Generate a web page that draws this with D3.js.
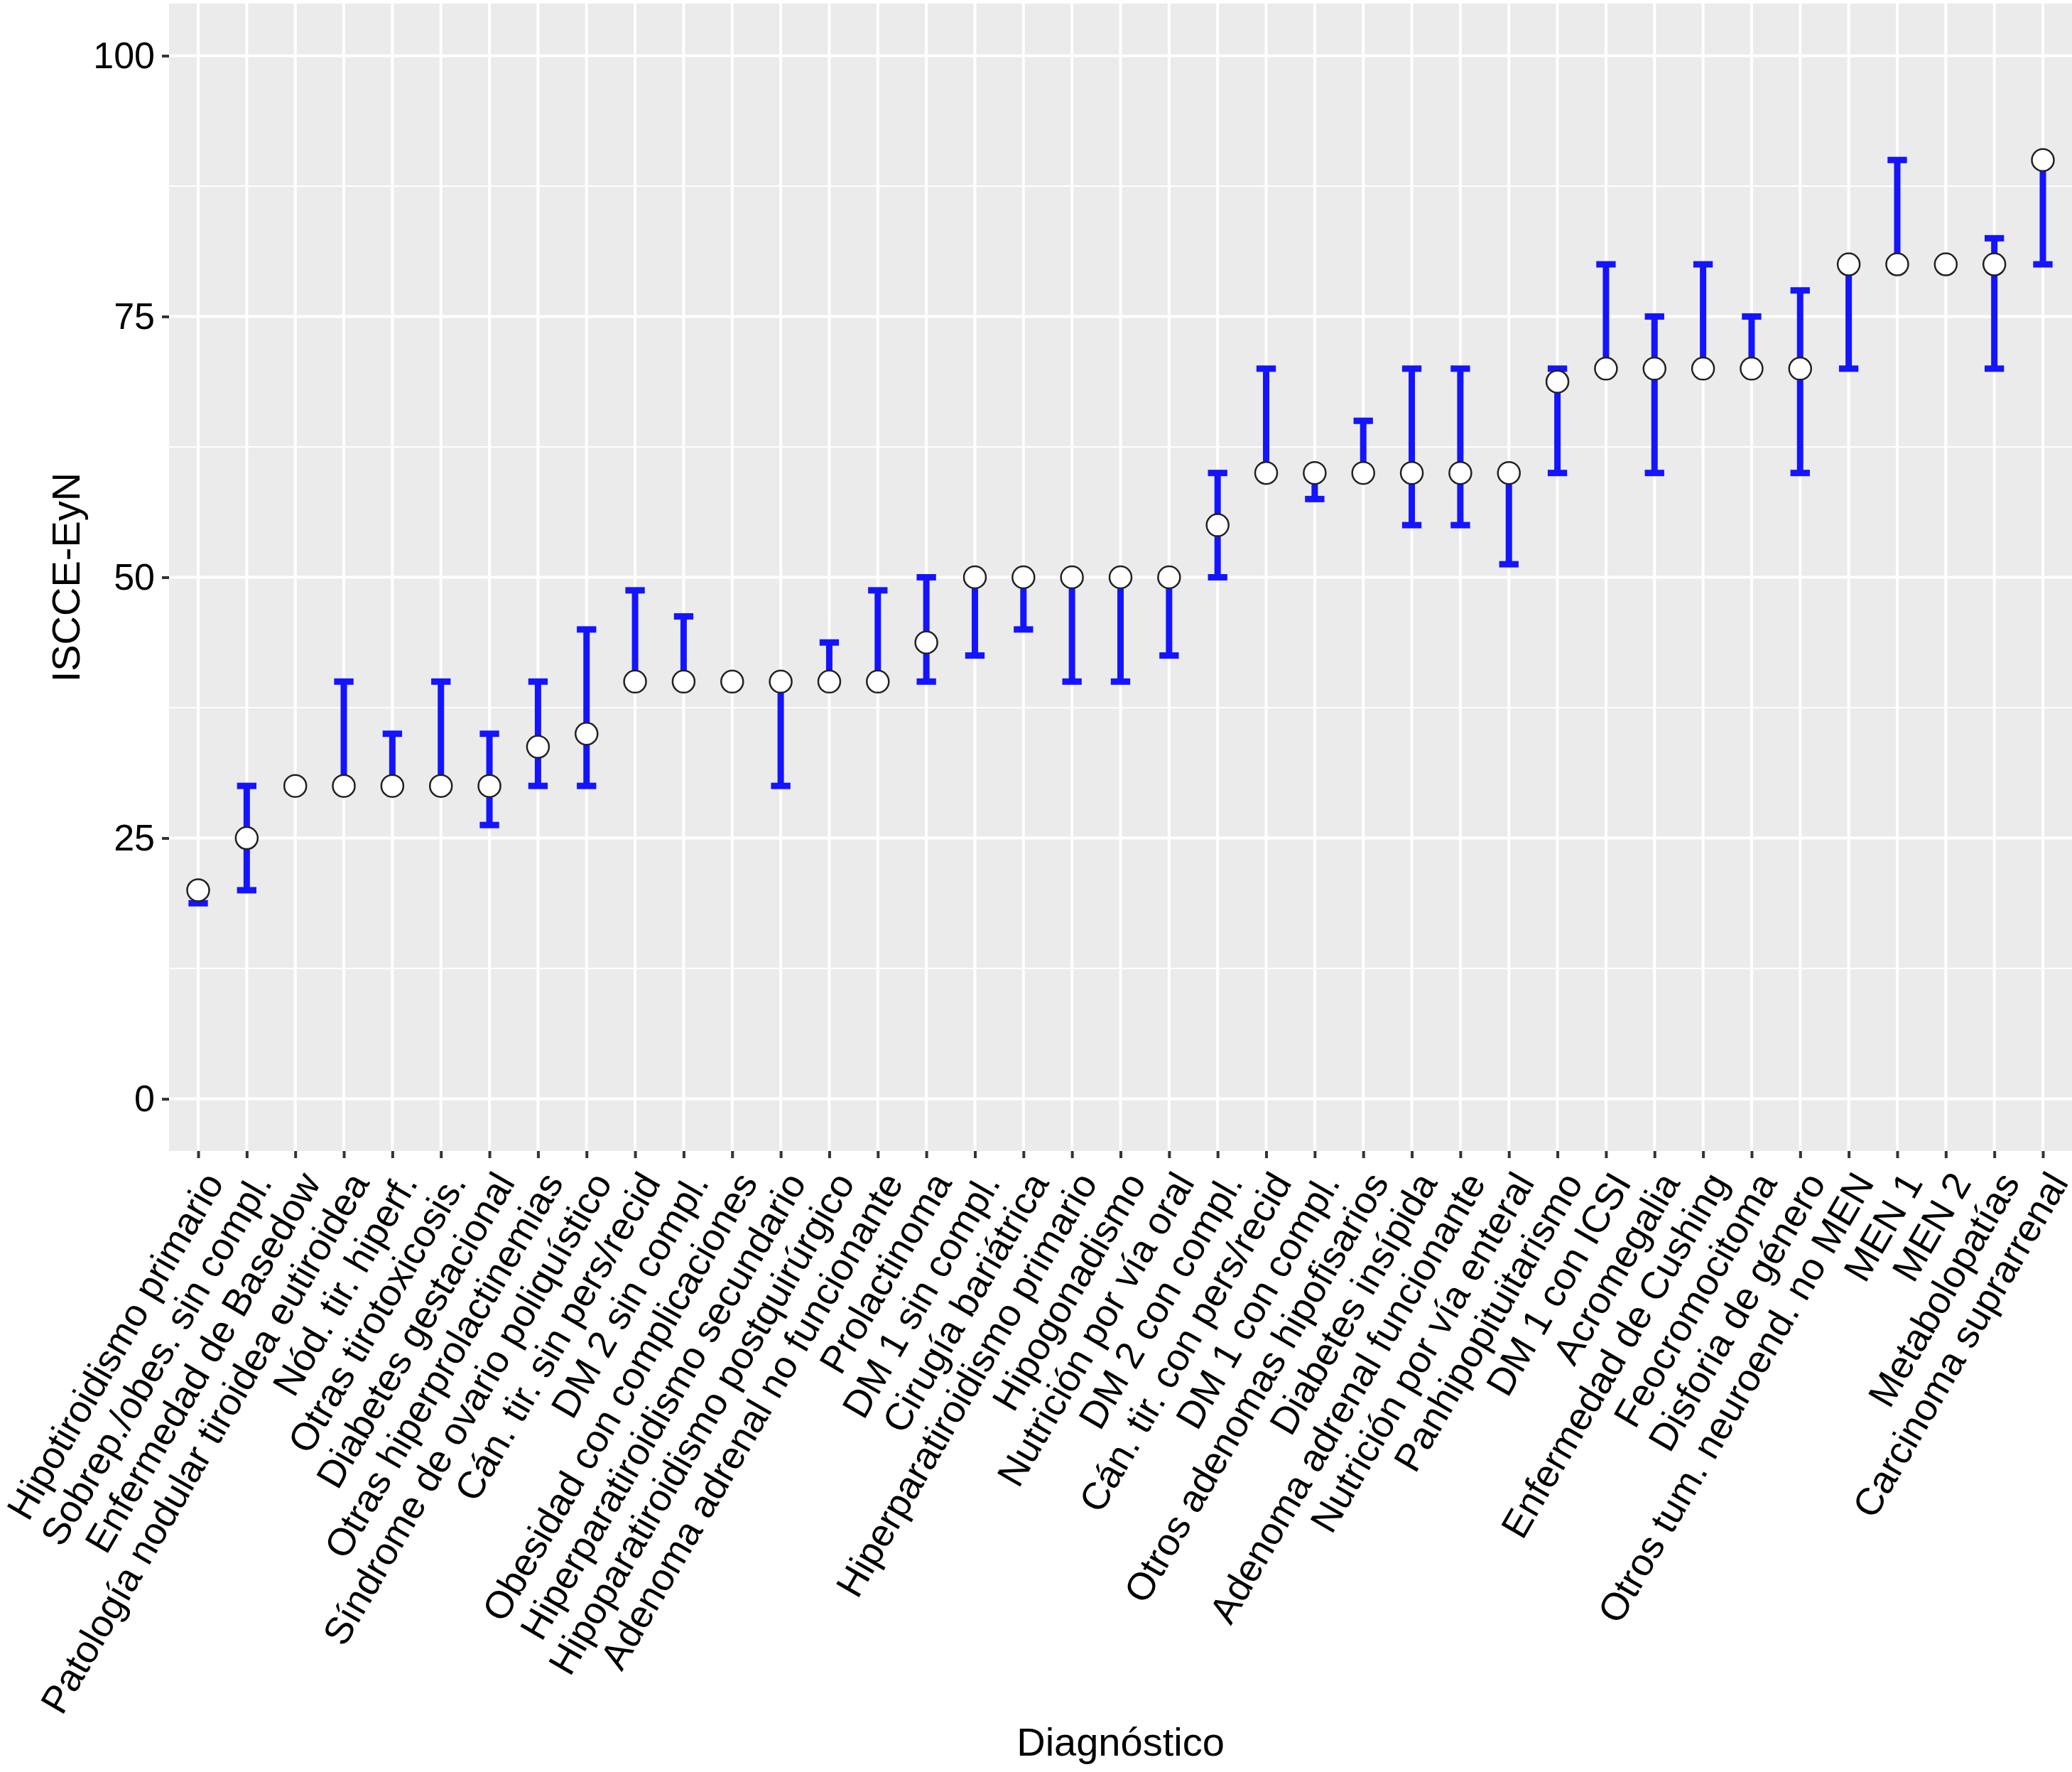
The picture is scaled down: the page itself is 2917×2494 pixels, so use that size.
<!DOCTYPE html>
<html>
<head>
<meta charset="utf-8">
<script src="https://cdn.jsdelivr.net/npm/d3@7"></script>
<style>
  html, body { margin: 0; padding: 0; background: #fff; }
  svg { display: block; }
</style>
</head>
<body>
<div id="chart"></div>
<script>
const categories = [
  "Hipotiroidismo primario",
  "Sobrep./obes. sin compl.",
  "Enfermedad de Basedow",
  "Patología nodular tiroidea eutiroidea",
  "Nód. tir. hiperf.",
  "Otras tirotoxicosis.",
  "Diabetes gestacional",
  "Otras hiperprolactinemias",
  "Síndrome de ovario poliquístico",
  "Cán. tir. sin pers/recid",
  "DM 2 sin compl.",
  "Obesidad con complicaciones",
  "Hiperparatiroidismo secundario",
  "Hipoparatiroidismo postquirúrgico",
  "Adenoma adrenal no funcionante",
  "Prolactinoma",
  "DM 1 sin compl.",
  "Cirugía bariátrica",
  "Hiperparatiroidismo primario",
  "Hipogonadismo",
  "Nutrición por vía oral",
  "DM 2 con compl.",
  "Cán. tir. con pers/recid",
  "DM 1 con compl.",
  "Otros adenomas hipofisarios",
  "Diabetes insípida",
  "Adenoma adrenal funcionante",
  "Nutrición por vía enteral",
  "Panhipopituitarismo",
  "DM 1 con ICSI",
  "Acromegalia",
  "Enfermedad de Cushing",
  "Feocromocitoma",
  "Disforia de género",
  "Otros tum. neuroend. no MEN",
  "MEN 1",
  "MEN 2",
  "Metabolopatías",
  "Carcinoma suprarrenal"
];
const medianValues = [20, 25, 30, 30, 30, 30, 30, 33.75, 35, 40, 40, 40, 40, 40, 40, 43.75, 50, 50, 50, 50, 50, 55, 60, 60, 60, 60, 60, 60, 68.75, 70, 70, 70, 70, 70, 80, 80, 80, 80, 90];
const lowerValues  = [18.75, 20, 30, 30, 30, 30, 26.25, 30, 30, 40, 40, 40, 30, 40, 40, 40, 42.5, 45, 40, 40, 42.5, 50, 60, 57.5, 60, 55, 55, 51.25, 60, 70, 60, 70, 70, 60, 70, 80, 80, 70, 80];
const upperValues  = [20, 30, 30, 40, 35, 40, 35, 40, 45, 48.75, 46.25, 40, 40, 43.75, 48.75, 50, 50, 50, 50, 50, 50, 60, 70, 60, 65, 70, 70, 60, 70, 80, 75, 80, 75, 77.5, 80, 90, 80, 82.5, 90];
const yTicks = [0, 25, 50, 75, 100];
const yMinorTicks = [12.5, 37.5, 62.5, 87.5];
const xTitle = "Diagnóstico";
const yTitle = "ISCCE-EyN";

const data = categories.map((c, i) => ({ cat: c, med: medianValues[i], lo: lowerValues[i], hi: upperValues[i] }));

const W = 2917, H = 2494;
const panel = { left: 238, right: 2917, top: 5, bottom: 1620 };
const font = "'Liberation Sans', Arial, Helvetica, sans-serif";

const svg = d3.select("#chart").append("svg")
  .attr("width", W).attr("height", H)
  .attr("viewBox", `0 0 ${W} ${H}`);

svg.append("rect").attr("width", W).attr("height", H).attr("fill", "#fff");

const x = d3.scalePoint().domain(categories).range([panel.left, panel.right]).padding(0.6);
const y = d3.scaleLinear().domain([-5, 105]).range([panel.bottom, panel.top]);

// panel background
svg.append("rect")
  .attr("x", panel.left).attr("y", panel.top)
  .attr("width", panel.right - panel.left).attr("height", panel.bottom - panel.top)
  .attr("fill", "#EBEBEB");

const grid = svg.append("g");
grid.selectAll(".minor").data(yMinorTicks).enter().append("line")
  .attr("x1", panel.left).attr("x2", panel.right)
  .attr("y1", d => y(d)).attr("y2", d => y(d))
  .attr("stroke", "#fff").attr("stroke-width", 2);
grid.selectAll(".majorY").data(yTicks).enter().append("line")
  .attr("x1", panel.left).attr("x2", panel.right)
  .attr("y1", d => y(d)).attr("y2", d => y(d))
  .attr("stroke", "#fff").attr("stroke-width", 4);
grid.selectAll(".majorX").data(categories).enter().append("line")
  .attr("y1", panel.top).attr("y2", panel.bottom)
  .attr("x1", d => x(d)).attr("x2", d => x(d))
  .attr("stroke", "#fff").attr("stroke-width", 4);

// Y axis
const yAxis = d3.axisLeft(y).tickValues(yTicks).tickSize(10).tickPadding(10).tickFormat(d3.format("d"));
const gy = svg.append("g").attr("transform", `translate(${panel.left},0)`).call(yAxis);
gy.select(".domain").remove();
gy.selectAll(".tick line").attr("stroke", "#333").attr("stroke-width", 4);
gy.selectAll(".tick text").attr("font-family", font).attr("font-size", 52).attr("fill", "#000");

// X axis
const xAxis = d3.axisBottom(x).tickSize(10).tickPadding(0);
const gx = svg.append("g").attr("transform", `translate(0,${panel.bottom})`).call(xAxis);
gx.select(".domain").remove();
gx.selectAll(".tick line").attr("stroke", "#333").attr("stroke-width", 4);
gx.selectAll(".tick text")
  .attr("font-family", font).attr("font-size", 54).attr("fill", "#000")
  .attr("text-anchor", "end")
  .attr("y", 0).attr("dy", "0.72em")
  .attr("transform", "translate(3,25) rotate(-60)");

// error bars
const capHalf = x.step() * 0.2;
const eb = svg.append("g");
eb.selectAll(".v").data(data.filter(d => d.hi > d.lo)).enter().append("line")
  .attr("x1", d => x(d.cat)).attr("x2", d => x(d.cat))
  .attr("y1", d => y(d.lo)).attr("y2", d => y(d.hi))
  .attr("stroke", "#1414FF").attr("stroke-width", 9);
eb.selectAll(".capH").data(data).enter().append("line")
  .attr("x1", d => x(d.cat) - capHalf).attr("x2", d => x(d.cat) + capHalf)
  .attr("y1", d => y(d.hi)).attr("y2", d => y(d.hi))
  .attr("stroke", "#1414FF").attr("stroke-width", 9);
eb.selectAll(".capL").data(data).enter().append("line")
  .attr("x1", d => x(d.cat) - capHalf).attr("x2", d => x(d.cat) + capHalf)
  .attr("y1", d => y(d.lo)).attr("y2", d => y(d.lo))
  .attr("stroke", "#1414FF").attr("stroke-width", 9);

// points
svg.append("g").selectAll("circle").data(data).enter().append("circle")
  .attr("cx", d => x(d.cat)).attr("cy", d => y(d.med))
  .attr("r", 15.5)
  .attr("fill", "#fff").attr("stroke", "#222").attr("stroke-width", 2.5);

// titles
svg.append("text")
  .attr("x", (panel.left + panel.right) / 2).attr("y", 2471)
  .attr("text-anchor", "middle")
  .attr("font-family", font).attr("font-size", 56).attr("fill", "#000")
  .text(xTitle);
svg.append("text")
  .attr("transform", `translate(112,${(panel.top + panel.bottom) / 2}) rotate(-90)`)
  .attr("text-anchor", "middle")
  .attr("font-family", font).attr("font-size", 56).attr("fill", "#000")
  .text(yTitle);
</script>
</body>
</html>
